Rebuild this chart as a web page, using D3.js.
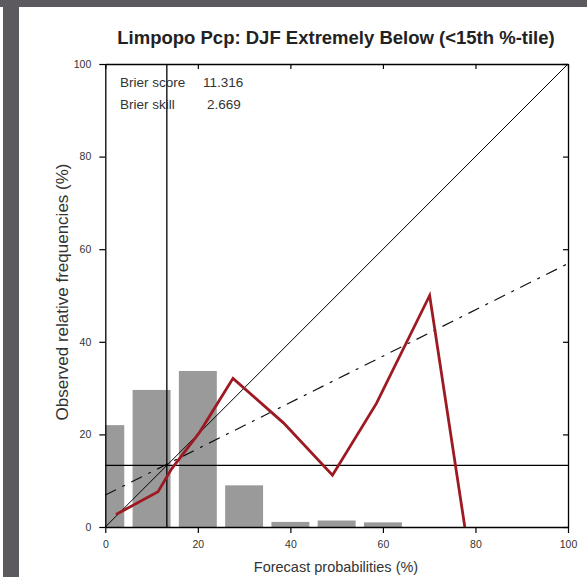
<!DOCTYPE html>
<html>
<head>
<meta charset="utf-8">
<script src="https://cdnjs.cloudflare.com/ajax/libs/d3/7.8.5/d3.min.js"></script>
<style>
  html, body { margin: 0; padding: 0; background: #ffffff; }
  svg { display: block; }
</style>
</head>
<body>
<svg id="chart" width="587" height="577"></svg>
<script>
// Reliability diagram data
const title = "Limpopo Pcp: DJF Extremely Below (<15th %-tile)";
const xLabel = "Forecast probabilities (%)";
const yLabel = "Observed relative frequencies (%)";

// Forecast frequency histogram (bin centre, % of forecasts)
const binCentres = [0, 10, 20, 30, 40, 50, 60];
const binFreq = [22.0, 29.6, 33.7, 9.0, 1.1, 1.4, 1.0];
const binWidth = 8.2;

// Reliability curve: mean forecast probability vs observed frequency
const relForecast = [2.3, 11.4, 14.3, 20.4, 27.6, 38.5, 49.1, 58.6, 70.1, 77.7];
const relObserved = [2.7, 7.6, 12.5, 20.5, 32.1, 22.5, 11.2, 26.7, 50.0, 0.0];

// Climatological frequency and weighted regression line
const climatology = 13.3;
const regIntercept = 6.9;
const regSlope = 0.5;

// Scores
const scoreLabels = ["Brier score", "Brier skill"];
const scoreValues = ["11.316", "2.669"];

const ticks = [0, 20, 40, 60, 80, 100];

const svg = d3.select("#chart");

// page frame
svg.append("rect").attr("x", 0).attr("y", 0).attr("width", 587).attr("height", 577).attr("fill", "#ffffff");
svg.append("rect").attr("x", 0).attr("y", 0).attr("width", 587).attr("height", 7).attr("fill", "#5c5a5f");
svg.append("rect").attr("x", 3).attr("y", 0).attr("width", 16).attr("height", 577).attr("fill", "#5c5a5f");

const pLeft = 105.3, pRight = 568, pTop = 64, pBottom = 527;
const x = d3.scaleLinear().domain([0, 100]).range([pLeft, pRight]);
const y = d3.scaleLinear().domain([0, 100]).range([pBottom, pTop]);

svg.append("defs").append("clipPath").attr("id", "plotclip")
  .append("rect").attr("x", pLeft).attr("y", pTop).attr("width", pRight - pLeft).attr("height", pBottom - pTop);

const plot = svg.append("g").attr("clip-path", "url(#plotclip)");

// histogram bars
plot.selectAll("rect.bar").data(binCentres).join("rect")
  .attr("class", "bar")
  .attr("x", d => x(d - binWidth / 2))
  .attr("width", d => x(d + binWidth / 2) - x(d - binWidth / 2))
  .attr("y", (d, i) => y(binFreq[i]))
  .attr("height", (d, i) => y(0) - y(binFreq[i]))
  .attr("fill", "#9a9a9a");

// perfect reliability diagonal
plot.append("line")
  .attr("x1", x(0)).attr("y1", y(0)).attr("x2", x(100)).attr("y2", y(100))
  .attr("stroke", "#000").attr("stroke-width", 1);

// regression line (dash-dot)
plot.append("line")
  .attr("x1", x(0)).attr("y1", y(regIntercept))
  .attr("x2", x(100)).attr("y2", y(regIntercept + regSlope * 100))
  .attr("stroke", "#111").attr("stroke-width", 1.2)
  .attr("stroke-dasharray", "12,7,3,7");

// climatology lines
plot.append("line")
  .attr("x1", x(0)).attr("x2", x(100)).attr("y1", y(climatology)).attr("y2", y(climatology))
  .attr("stroke", "#000").attr("stroke-width", 1.3);
plot.append("line")
  .attr("x1", x(climatology)).attr("x2", x(climatology)).attr("y1", y(0)).attr("y2", y(100))
  .attr("stroke", "#000").attr("stroke-width", 1.3);

// reliability curve
const line = d3.line().x((d, i) => x(relForecast[i])).y((d, i) => y(relObserved[i]));
plot.append("path")
  .attr("d", line(relForecast))
  .attr("fill", "none").attr("stroke", "#9e1a22").attr("stroke-width", 2.8)
  .attr("stroke-linejoin", "miter");

// axes
const tickFont = "'Liberation Sans', Arial, sans-serif";
const axB = svg.append("g").attr("transform", `translate(0,${pBottom})`)
  .call(d3.axisBottom(x).tickValues(ticks).tickSize(6).tickSizeOuter(0).tickPadding(8));
const axL = svg.append("g").attr("transform", `translate(${pLeft},0)`)
  .call(d3.axisLeft(y).tickValues(ticks).tickSize(6).tickSizeOuter(0).tickPadding(8));
const axT = svg.append("g").attr("transform", `translate(0,${pTop})`)
  .call(d3.axisTop(x).tickValues(ticks).tickSize(-5).tickSizeOuter(0).tickFormat(""));
const axR = svg.append("g").attr("transform", `translate(${pRight},0)`)
  .call(d3.axisRight(y).tickValues(ticks).tickSize(-5).tickSizeOuter(0).tickFormat(""));
[axB, axL, axT, axR].forEach(a => {
  a.selectAll("path").attr("stroke", "#000").attr("stroke-width", 1.3);
  a.selectAll("line").attr("stroke", "#000").attr("stroke-width", 1.2);
  a.selectAll("text").attr("font-family", tickFont).attr("font-size", 10.5).attr("fill", "#333");
});

// title and axis labels
svg.append("text").attr("x", 336).attr("y", 43.5).attr("text-anchor", "middle")
  .attr("font-family", tickFont).attr("font-weight", "bold").attr("font-size", 18.5).attr("fill", "#222")
  .text(title);
svg.append("text").attr("x", 336).attr("y", 572).attr("text-anchor", "middle")
  .attr("font-family", tickFont).attr("font-size", 14.5).attr("fill", "#333")
  .text(xLabel);
svg.append("text").attr("transform", `translate(68,292) rotate(-90)`)
  .attr("text-anchor", "middle")
  .attr("font-family", tickFont).attr("font-size", 17).attr("fill", "#333")
  .text(yLabel);

// score annotations
scoreLabels.forEach((lab, i) => {
  svg.append("text").attr("x", 120).attr("y", 86.5 + i * 22.5)
    .attr("font-family", tickFont).attr("font-size", 13.5).attr("fill", "#333").text(lab);
  svg.append("text").attr("x", i === 0 ? 203 : 207).attr("y", 86.5 + i * 22.5)
    .attr("font-family", tickFont).attr("font-size", 13.5).attr("fill", "#333").text(scoreValues[i]);
});
</script>
</body>
</html>
